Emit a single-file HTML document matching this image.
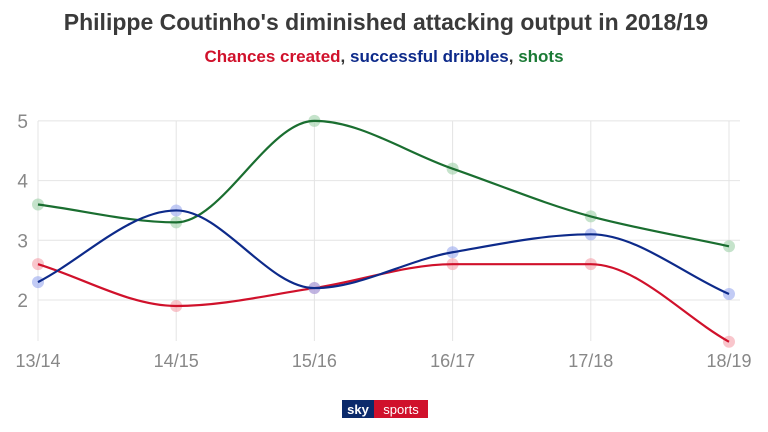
<!DOCTYPE html>
<html><head><meta charset="utf-8"><style>
body{margin:0;background:#fff;font-family:"Liberation Sans",sans-serif;}
#wrap{position:relative;width:768px;height:432px;overflow:hidden;}
</style></head><body>
<div id="wrap">
<svg id="chart" width="768" height="432">
<text x="386" y="30" text-anchor="middle" font-size="23" font-weight="bold" fill="#3a3a3a">Philippe Coutinho's diminished attacking output in 2018/19</text>
<text x="384" y="62" text-anchor="middle" font-size="17" font-weight="bold"><tspan fill="#d0112b">Chances created</tspan><tspan fill="#333">, </tspan><tspan fill="#0d2a8a">successful dribbles</tspan><tspan fill="#333">, </tspan><tspan fill="#1a7a35">shots</tspan></text>
<g id="grid"></g><g id="lines"></g>
<g>
<rect x="342" y="400" width="32" height="18" fill="#0b2a6b"/>
<rect x="374" y="400" width="54" height="18" fill="#d0112b"/>
<text x="358" y="414" text-anchor="middle" font-size="13" font-weight="bold" fill="#fff">sky</text>
<text x="401" y="414" text-anchor="middle" font-size="13" fill="#fff">sports</text>
</g>
</svg></div>
<script>
const categories=["13/14","14/15","15/16","16/17","17/18","18/19"];
const chances=[2.6,1.9,2.2,2.6,2.6,1.3];
const dribbles=[2.3,3.5,2.2,2.8,3.1,2.1];
const shots=[3.6,3.3,5.0,4.2,3.4,2.9];
const yTicks=[2,3,4,5];
const NS="http://www.w3.org/2000/svg";
const x=i=>38+i*138.2;
const y=v=>300-(v-2)*59.7;
const grid=document.getElementById('grid'),lines=document.getElementById('lines');
function mk(t,a,p){const e=document.createElementNS(NS,t);for(const k in a)e.setAttribute(k,a[k]);p.appendChild(e);return e;}
yTicks.forEach(t=>{
 const l=mk('line',{x1:38,x2:740,y1:y(t),y2:y(t),stroke:'#e4e4e4'},grid);
 
 
 const tx=mk('text',{x:28,y:y(t)+7,'text-anchor':'end','font-size':19,fill:'#888'},grid);tx.textContent=t;
 
 
});
categories.forEach((c,i)=>{
 const l=mk('line',{x1:x(i),x2:x(i),y1:121,y2:341,stroke:'#e4e4e4'},grid);
 
 
 const tx=mk('text',{x:x(i),y:367,'text-anchor':'middle','font-size':18,fill:'#888'},grid);tx.textContent=c;
 
 
});
function monotone(pts){
 const n=pts.length,d=[],m=[];
 for(let i=0;i<n-1;i++)d.push((pts[i+1][1]-pts[i][1])/(pts[i+1][0]-pts[i][0]));
 for(let i=0;i<n;i++){
  if(i==0)m.push(d[0]);else if(i==n-1)m.push(d[n-2]);
  else m.push(d[i-1]*d[i]<=0?0:2/(1/d[i-1]+1/d[i]));
 }
 let s=`M${pts[0][0]},${pts[0][1]}`;
 for(let i=0;i<n-1;i++){const h=(pts[i+1][0]-pts[i][0])/3;
  s+=` C${pts[i][0]+h},${pts[i][1]+m[i]*h} ${pts[i+1][0]-h},${pts[i+1][1]-m[i+1]*h} ${pts[i+1][0]},${pts[i+1][1]}`;}
 return s;
}
function series(vals,col,dot,name){
 const pts=vals.map((v,i)=>[x(i),y(v)]);
 pts.forEach(p=>{const c=mk('circle',{cx:p[0],cy:p[1],r:6,fill:dot,opacity:0.6},lines);
  
  });
 const p=mk('path',{d:monotone(pts),fill:'none',stroke:col,'stroke-width':2.2},lines);
 
 
}
series(shots,'#1a6e30','#9fd0a8','shots');
series(chances,'#d0112b','#f5a0aa','chances-created');
series(dribbles,'#0d2a8a','#9aa8ee','successful-dribbles');
</script></body></html>
